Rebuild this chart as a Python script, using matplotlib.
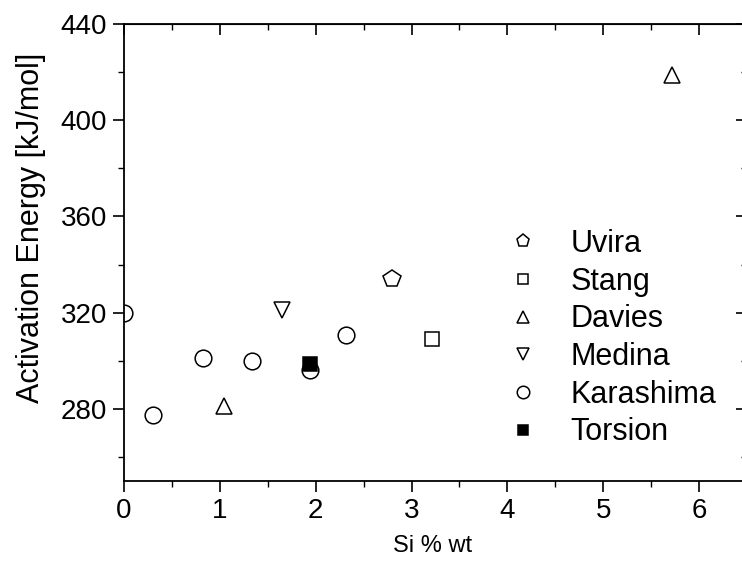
import matplotlib
matplotlib.use("Agg")
import matplotlib.pyplot as plt
from matplotlib.ticker import MultipleLocator

# Activation energy against silicon content, by data source
uvira_si = [2.80]
uvira_q = [334]

stang_si = [3.21]
stang_q = [309]

davies_si = [1.04, 5.72]
davies_q = [281, 419]

medina_si = [1.65]
medina_q = [321]

karashima_si = [0.0, 0.30, 0.82, 1.34, 1.94, 2.32]
karashima_q = [320, 277.5, 301, 300, 296, 310.5]

torsion_si = [1.94]
torsion_q = [298.5]

plt.rcParams["font.family"] = ["Liberation Sans", "DejaVu Sans"]

fig = plt.figure(figsize=(7.42, 5.66), dpi=100)
ax = fig.add_axes([124 / 742, 85 / 566, (747 - 124) / 742, (481 - 24) / 566])

mew = 1.1
common = dict(linestyle="none", markeredgewidth=mew, markeredgecolor="black")
ax.plot(uvira_si, uvira_q, marker="p", markersize=13, markerfacecolor="white",
        label="Uvira", **common)
ax.plot(stang_si, stang_q, marker="s", markersize=10, markerfacecolor="white",
        label="Stang", **common)
ax.plot(davies_si, davies_q, marker="^", markersize=11, markerfacecolor="white",
        label="Davies", **common)
ax.plot(medina_si, medina_q, marker="v", markersize=11, markerfacecolor="white",
        label="Medina", **common)
ax.plot(karashima_si, karashima_q, marker="o", markersize=12, markerfacecolor="white",
        label="Karashima", **common)
ax.plot(torsion_si, torsion_q, marker="s", markersize=10, markerfacecolor="black",
        label="Torsion", **common)

ax.set_xlim(0, 6.5)
ax.set_ylim(250, 440)
ax.xaxis.set_major_locator(MultipleLocator(1))
ax.xaxis.set_minor_locator(MultipleLocator(0.5))
ax.yaxis.set_minor_locator(MultipleLocator(20))
ax.set_yticks([280, 320, 360, 400, 440])

for side in ax.spines.values():
    side.set_linewidth(1.3)

ax.tick_params(which="major", direction="out", length=8, width=1.2,
               labelsize=20, pad=4)
ax.tick_params(which="minor", direction="out", length=4, width=1.0)

# mirrored ticks pointing inward on the top and right spines
top = ax.secondary_xaxis("top")
top.xaxis.set_major_locator(MultipleLocator(1))
top.xaxis.set_minor_locator(MultipleLocator(0.5))
top.tick_params(which="major", direction="in", length=8, width=1.2, labeltop=False)
top.tick_params(which="minor", direction="in", length=4, width=1.0)
right = ax.secondary_yaxis("right")
right.yaxis.set_major_locator(MultipleLocator(40))
right.yaxis.set_minor_locator(MultipleLocator(20))
right.tick_params(which="major", direction="in", length=8, width=1.2, labelright=False)
right.tick_params(which="minor", direction="in", length=4, width=1.0)

ax.set_xlabel("Si % wt", fontsize=17)
ax.xaxis.set_label_coords(0.496, -0.118)
ax.set_ylabel("Activation Energy [kJ/mol]", fontsize=22)
ax.yaxis.set_label_coords(-0.125, 0.554)

ax.legend(loc="upper left", bbox_to_anchor=(0.584, 0.578), frameon=False,
          fontsize=22, markerscale=0.75, handlelength=1.5, handletextpad=0.8,
          labelspacing=0.25, borderaxespad=0)

fig.savefig("out.png", dpi=100)
